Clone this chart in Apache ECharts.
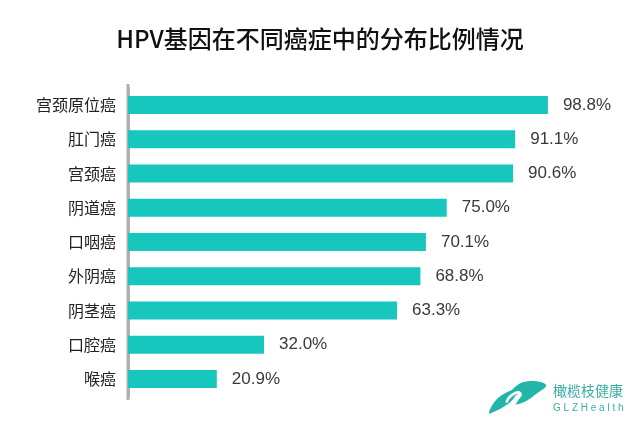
<!DOCTYPE html>
<html>
<head>
<meta charset="utf-8">
<script src="https://cdn.jsdelivr.net/npm/echarts@6/dist/echarts.min.js"></script>
<style>html,body{margin:0;padding:0;background:#fff}#c{width:640px;height:425px}</style>
</head>
<body>
<div id="c"></div>
<script>
var categories = ['宫颈原位癌','肛门癌','宫颈癌','阴道癌','口咽癌','外阴癌','阴茎癌','口腔癌','喉癌'];
var values = [98.8, 91.1, 90.6, 75.0, 70.1, 68.8, 63.3, 32.0, 20.9];
var titleText = 'HPV基因在不同癌症中的分布比例情况';
var brandCn = '橄榄枝健康';
var brandEn = 'GLZHealth';

var chart = echarts.init(document.getElementById('c'), null, {renderer:'canvas'});
chart.setOption({
  backgroundColor:'#fff',
  animation:false,
  title:{text:titleText,left:'center',top:22,textStyle:{fontFamily:'Noto Sans CJK SC',fontSize:24,fontWeight:500,color:'#111'}},
  grid:{left:128,right:87,top:88,bottom:29,containLabel:false},
  xAxis:{type:'value',min:0,max:100,show:false},
  yAxis:{type:'category',data:categories,inverse:true,
    axisLine:{show:true,lineStyle:{color:'#b0b0b0',width:3}},
    axisTick:{show:false},
    axisLabel:{margin:12,fontSize:16,color:'#222',fontFamily:'Noto Sans CJK SC'}},
  series:[{type:'bar',data:values,barWidth:18,itemStyle:{color:'#17c6bd'},
    label:{show:true,position:'right',distance:15,fontSize:17,color:'#3a3a3a',fontFamily:'Liberation Sans',
      formatter:function(p){return p.value.toFixed(1)+'%';}}}],
  graphic:[
    {type:'line',shape:{x1:128,y1:84,x2:128,y2:400},style:{stroke:'#b0b0b0',lineWidth:3}},
    {type:'polygon',left:489,top:389,shape:{smooth:0.4,points:[[0,24],[6,12],[16,4],[28,0],[24,10],[14,18],[6,22]]},style:{fill:'#22b5a8'}},
    {type:'polygon',left:508,top:381,shape:{smooth:0.4,points:[[0,18],[8,6],[22,1],[38,5],[28,14],[16,22],[6,24],[12,14]]},style:{fill:'#22b5a8'}},
    {type:'polyline',left:504,top:390,shape:{smooth:0.6,points:[[0,12],[6,4],[14,3],[10,10],[8,15],[14,17],[22,12]]},style:{fill:'none',stroke:'#fff',lineWidth:2.5}},
    {type:'text',left:553,top:384,style:{text:brandCn,fontSize:14,fill:'#3aaea3',fontFamily:'Noto Sans CJK SC'}},
    {type:'text',left:553,top:403,style:{text:brandEn.split('').join(' '),fontSize:10,fill:'#3aaea3',fontFamily:'Liberation Sans'}}
  ]
});
</script>
</body>
</html>
